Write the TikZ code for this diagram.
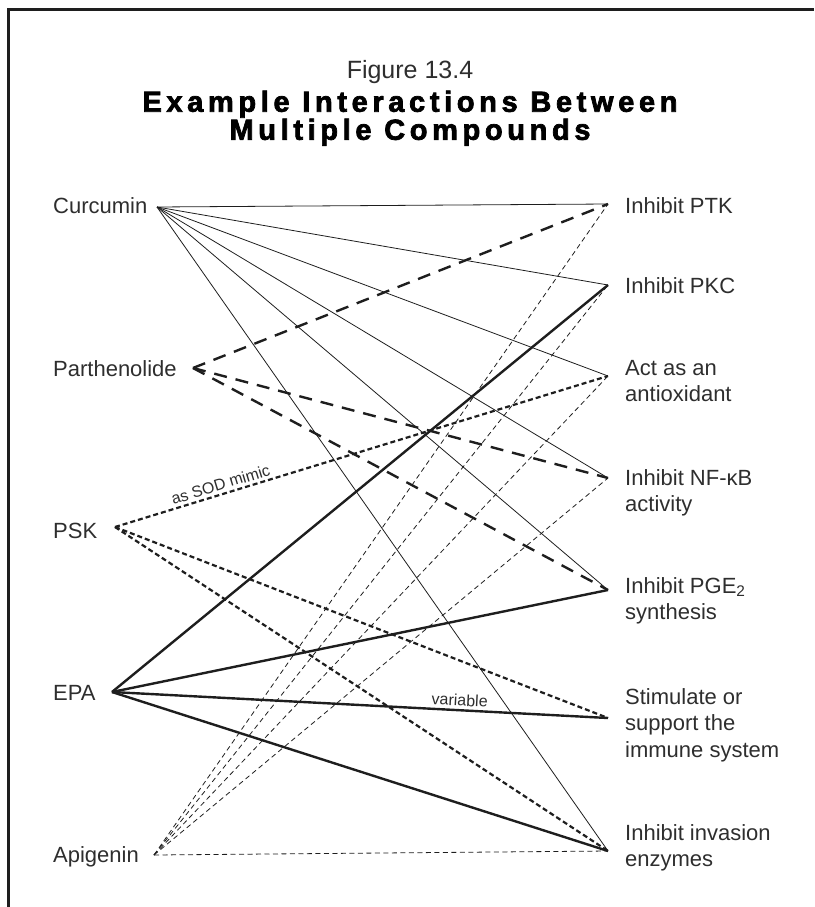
\documentclass[tikz,border=0pt]{standalone}
\usepackage{fontspec}
\setmainfont{Liberation Sans}
\newfontfamily\headfont{Liberation Sans}[BoldFeatures={FakeBold=2.5},LetterSpace=16]
\usetikzlibrary{positioning}
\definecolor{inkgray}{HTML}{2E2E2E}
\definecolor{linkink}{HTML}{1E1E1E}
\tikzset{
cmpd/.style={anchor=base west,inner sep=0pt,text=inkgray,font=\fontsize{22}{26.5}\selectfont},
effect/.style={anchor=base west,inner sep=0pt,align=left,text=inkgray,font=\fontsize{22}{26.5}\selectfont},
curlink/.style={draw=linkink,line width=0.8pt},
parlink/.style={draw=linkink,line width=2.4pt,dash pattern=on 13pt off 9pt},
psklink/.style={draw=linkink,line width=2.2pt,dash pattern=on 5pt off 3pt},
epalink/.style={draw=linkink,line width=2.4pt},
apilink/.style={draw=linkink,line width=0.8pt,dash pattern=on 5pt off 3.5pt},
linknote/.style={text=inkgray,font=\fontsize{16}{18}\selectfont,inner sep=3pt,sloped,above}
}
\begin{document}
\begin{tikzpicture}[x=1pt,y=-1pt]
\useasboundingbox (0,0) rectangle (814,907);
\draw[linkink,line width=3pt] (8,907) -- (8,10) -- (814,10);
\node[text=inkgray,font=\fontsize{25}{28}\selectfont] (fig) at (410,72) {Figure 13.4};
\node[font=\headfont\bfseries\fontsize{29}{26.5}\selectfont,align=center,below=0pt of fig] (ttl) {Example Interactions Between\\Multiple Compounds};
% compounds
\node[cmpd] (cur) at (53,213) {Curcumin};
\node[cmpd] (par) at (53,376) {Parthenolide};
\node[cmpd] (psk) at (53,538) {PSK};
\node[cmpd] (epa) at (53,700) {EPA};
\node[cmpd] (api) at (53,862) {Apigenin};
\coordinate (curpt) at (157,207);
\coordinate (parpt) at (193,368);
\coordinate (pskpt) at (115,527);
\coordinate (epapt) at (112,692);
\coordinate (apipt) at (154,855);
% effects (base = last line)
\node[effect] (ptk) at (625,213) {Inhibit PTK};
\node[effect] (pkc) at (625,293) {Inhibit PKC};
\node[effect] (aox) at (625,401.5) {Act as an\\antioxidant};
\node[effect] (nfkb) at (625,511.5) {Inhibit NF-κB\\activity};
\node[effect] (pge) at (625,619.5) {Inhibit PGE\textsubscript{2}\\synthesis};
\node[effect] (imm) at (625,757) {Stimulate or\\support the\\immune system};
\node[effect] (inv) at (625,866.5) {Inhibit invasion\\enzymes};
\coordinate (ptkpt) at (608,204);
\coordinate (pkcpt) at (608,285);
\coordinate (aoxpt) at (608,376);
\coordinate (nfkbpt) at (608,478);
\coordinate (pgept) at (608,590);
\coordinate (immpt) at (608,718);
\coordinate (invpt) at (608,851);
\foreach \t in {ptk,pkc,aox,nfkb,pge,inv}
  \draw[curlink] (curpt) -- (\t pt);
\foreach \t in {ptk,nfkb,pge}
  \draw[parlink] (parpt) -- (\t pt);
\foreach \t in {ptk,pkc,aox,nfkb,inv}
  \draw[apilink] (apipt) -- (\t pt);
\draw[psklink] (pskpt) -- node[linknote,pos=0.22] {as SOD mimic} (aoxpt);
\draw[psklink] (pskpt) -- (immpt);
\draw[psklink] (pskpt) -- (invpt);
\draw[epalink] (epapt) -- (pkcpt);
\draw[epalink] (epapt) -- (pgept);
\draw[epalink] (epapt) -- node[linknote,pos=0.70] {variable} (immpt);
\draw[epalink] (epapt) -- (invpt);
\end{tikzpicture}
\end{document}
